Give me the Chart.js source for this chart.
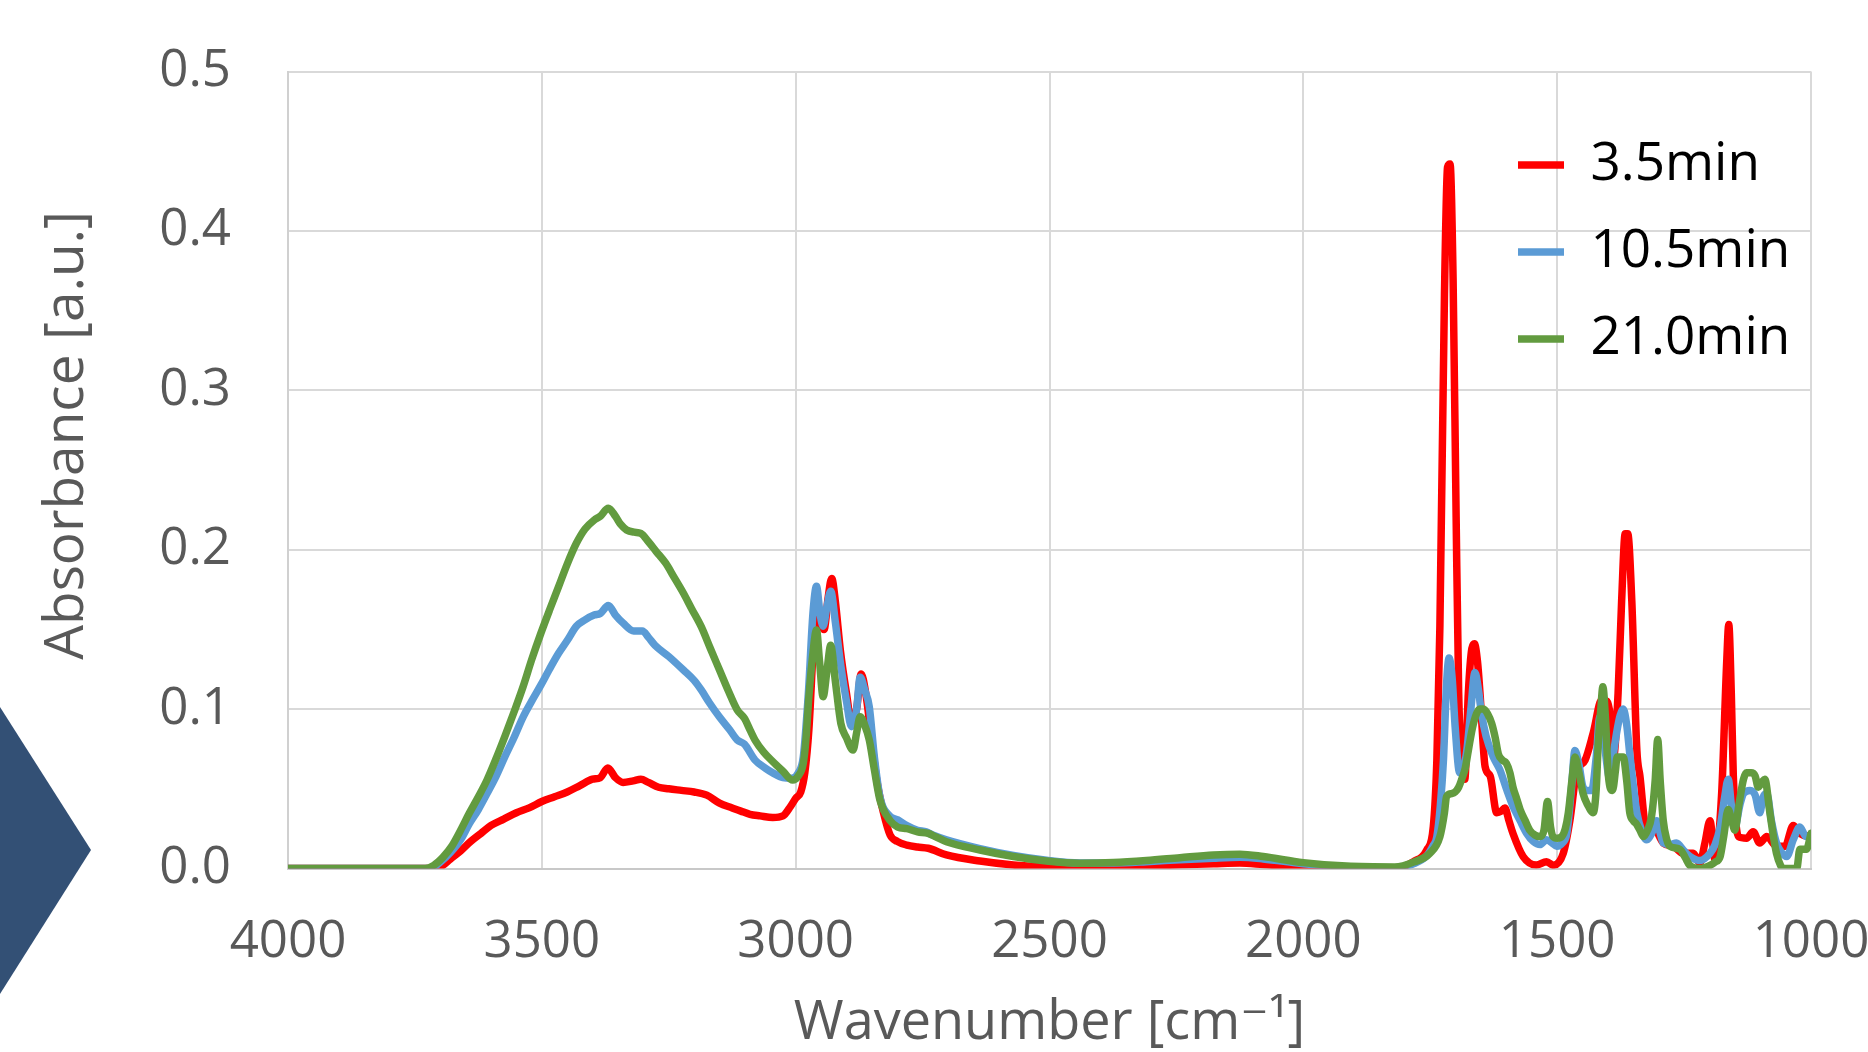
<!DOCTYPE html>
<html>
<head>
<meta charset="utf-8">
<script src="https://cdn.jsdelivr.net/npm/chart.js@4/dist/chart.umd.min.js"></script>
<style>
  html, body { margin: 0; padding: 0; background: #fff; }
  #wrap { width: 1868px; height: 1052px; }
</style>
</head>
<body>
<div id="wrap"><canvas id="chart" width="1868" height="1052"></canvas></div>
<script>
// FTIR spectra: [wavenumber cm-1, absorbance a.u.]
const spec35 = [
  [4000, 0], [3800, 0], [3720, 0], [3700, 0.001], [3680, 0.006], [3660, 0.011], [3640, 0.017],
  [3620, 0.022], [3600, 0.027], [3575, 0.031], [3550, 0.035], [3525, 0.038], [3500, 0.042],
  [3475, 0.045], [3450, 0.048], [3425, 0.052], [3400, 0.056], [3385, 0.057], [3370, 0.063],
  [3355, 0.057], [3340, 0.054], [3320, 0.055], [3305, 0.056], [3290, 0.054], [3270, 0.051],
  [3250, 0.050], [3225, 0.049], [3200, 0.048], [3175, 0.046], [3150, 0.041], [3125, 0.038],
  [3108, 0.036], [3090, 0.034], [3070, 0.033], [3045, 0.032], [3025, 0.033], [3010, 0.039],
  [3000, 0.044], [2990, 0.048], [2982, 0.060], [2974, 0.087], [2966, 0.135], [2959, 0.172],
  [2952, 0.155], [2944, 0.150], [2936, 0.170], [2929, 0.182], [2922, 0.168], [2912, 0.137],
  [2900, 0.110], [2890, 0.092], [2880, 0.100], [2871, 0.122], [2862, 0.110], [2852, 0.085],
  [2840, 0.055], [2827, 0.035], [2814, 0.021], [2800, 0.017], [2781, 0.0147], [2760, 0.0135],
  [2739, 0.0127], [2703, 0.0085], [2637, 0.0047], [2571, 0.0022], [2506, 0.001], [2440, 0.0005],
  [2374, 0.001], [2309, 0.0015], [2243, 0.0023], [2177, 0.003], [2125, 0.0035], [2079, 0.0025],
  [2000, 0.0005], [1900, 0], [1820, 0], [1783, 0.0043], [1757, 0.0116], [1744, 0.0263],
  [1737, 0.068], [1731, 0.152], [1722, 0.36], [1716, 0.44], [1711, 0.442], [1705, 0.37],
  [1699, 0.22], [1694, 0.11], [1688, 0.068], [1682, 0.056], [1675, 0.11], [1668, 0.138],
  [1663, 0.141], [1657, 0.13], [1652, 0.11], [1642, 0.064], [1632, 0.058], [1619, 0.035],
  [1610, 0.036], [1603, 0.038], [1595, 0.03], [1587, 0.022], [1567, 0.0075], [1541, 0.0022],
  [1521, 0.0043], [1508, 0.002], [1488, 0.0095], [1475, 0.03], [1462, 0.06], [1445, 0.068],
  [1429, 0.085], [1412, 0.106], [1402, 0.105], [1395, 0.095], [1389, 0.07], [1380, 0.11],
  [1373, 0.168], [1366, 0.21], [1361, 0.21], [1353, 0.168], [1343, 0.074], [1337, 0.058],
  [1324, 0.024], [1311, 0.026], [1291, 0.016], [1271, 0.014], [1252, 0.0095], [1232, 0.0095],
  [1219, 0.0033], [1209, 0.016], [1199, 0.03], [1189, 0.0054], [1176, 0.047], [1166, 0.13],
  [1162, 0.153], [1157, 0.11], [1153, 0.058], [1143, 0.02], [1127, 0.019], [1114, 0.023],
  [1101, 0.016], [1087, 0.02], [1068, 0.014], [1051, 0.014], [1035, 0.027], [1022, 0.022],
  [1000, 0.02]
];

const spec105 = [
  [4000, 0], [3800, 0], [3720, 0], [3700, 0.004], [3680, 0.010], [3660, 0.018], [3643, 0.028],
  [3625, 0.037], [3608, 0.047], [3590, 0.058], [3573, 0.070], [3555, 0.082], [3537, 0.095],
  [3520, 0.105], [3502, 0.115], [3485, 0.125], [3467, 0.135], [3450, 0.143], [3432, 0.152],
  [3415, 0.156], [3397, 0.159], [3385, 0.160], [3369, 0.165], [3355, 0.159], [3340, 0.154],
  [3319, 0.149], [3302, 0.149], [3290, 0.145], [3277, 0.140], [3250, 0.133], [3221, 0.1245],
  [3200, 0.118], [3186, 0.112], [3170, 0.104], [3150, 0.095], [3130, 0.087], [3115, 0.0806],
  [3101, 0.078], [3080, 0.068], [3060, 0.063], [3045, 0.060], [3025, 0.057], [3008, 0.0566],
  [2995, 0.060], [2985, 0.070], [2975, 0.110], [2966, 0.160], [2959, 0.177], [2952, 0.160],
  [2946, 0.152], [2938, 0.165], [2931, 0.174], [2922, 0.155], [2911, 0.127], [2900, 0.105],
  [2890, 0.089], [2880, 0.100], [2873, 0.120], [2864, 0.112], [2855, 0.1015], [2845, 0.070],
  [2834, 0.045], [2815, 0.033], [2799, 0.0305], [2781, 0.027], [2760, 0.024], [2743, 0.023],
  [2730, 0.021], [2703, 0.018], [2637, 0.0125], [2571, 0.0082], [2506, 0.0052], [2440, 0.0035],
  [2374, 0.0035], [2309, 0.0043], [2243, 0.0055], [2177, 0.0065], [2125, 0.007], [2079, 0.006],
  [2000, 0.003], [1915, 0.001], [1820, 0.0005], [1783, 0.003], [1757, 0.008], [1745, 0.014],
  [1737, 0.020], [1730, 0.040], [1724, 0.068], [1718, 0.115], [1713, 0.132], [1707, 0.120],
  [1701, 0.089], [1692, 0.060], [1685, 0.062], [1678, 0.074], [1670, 0.100], [1662, 0.123],
  [1655, 0.112], [1649, 0.097], [1640, 0.083], [1626, 0.070], [1613, 0.062], [1600, 0.050],
  [1587, 0.039], [1573, 0.030], [1560, 0.022], [1547, 0.017], [1534, 0.015], [1521, 0.018],
  [1510, 0.016], [1501, 0.014], [1490, 0.016], [1481, 0.022], [1472, 0.050], [1465, 0.074],
  [1457, 0.065], [1449, 0.051], [1440, 0.049], [1432, 0.049], [1423, 0.070], [1416, 0.095],
  [1408, 0.080], [1396, 0.056], [1390, 0.070], [1383, 0.085], [1376, 0.096], [1370, 0.100],
  [1363, 0.090], [1357, 0.072], [1350, 0.052], [1343, 0.035], [1334, 0.024], [1324, 0.018],
  [1314, 0.022], [1304, 0.030], [1297, 0.022], [1291, 0.016], [1278, 0.015], [1265, 0.016],
  [1250, 0.011], [1238, 0.0075], [1219, 0.005], [1199, 0.0095], [1189, 0.015], [1179, 0.026],
  [1170, 0.045], [1163, 0.056], [1157, 0.040], [1150, 0.026], [1140, 0.040], [1133, 0.047],
  [1120, 0.049], [1110, 0.046], [1101, 0.035], [1094, 0.045], [1087, 0.047], [1078, 0.030],
  [1068, 0.016], [1058, 0.010], [1048, 0.0075], [1035, 0.018], [1022, 0.026], [1010, 0.020],
  [1000, 0.020]
];

const spec210 = [
  [4000, 0], [3800, 0], [3730, 0], [3713, 0.002], [3695, 0.007], [3678, 0.0137], [3660, 0.024],
  [3643, 0.0346], [3625, 0.045], [3608, 0.0555], [3590, 0.069], [3573, 0.0827], [3555, 0.098],
  [3537, 0.114], [3520, 0.131], [3502, 0.1475], [3485, 0.162], [3467, 0.1768], [3450, 0.191],
  [3432, 0.204], [3415, 0.213], [3397, 0.2186], [3385, 0.221], [3369, 0.226], [3355, 0.221],
  [3345, 0.216], [3333, 0.2124], [3318, 0.211], [3305, 0.2103], [3290, 0.205], [3275, 0.199],
  [3256, 0.1915], [3240, 0.183], [3221, 0.1727], [3205, 0.163], [3186, 0.1517], [3168, 0.138],
  [3150, 0.1245], [3132, 0.111], [3115, 0.0994], [3101, 0.0942], [3090, 0.087], [3080, 0.0806],
  [3063, 0.073], [3045, 0.067], [3025, 0.061], [3006, 0.0555], [2995, 0.058], [2985, 0.066],
  [2980, 0.080], [2974, 0.1078], [2966, 0.135], [2959, 0.1496], [2953, 0.130], [2946, 0.1078],
  [2938, 0.125], [2931, 0.140], [2922, 0.118], [2911, 0.091], [2900, 0.082], [2887, 0.0743],
  [2880, 0.085], [2873, 0.0952], [2864, 0.090], [2855, 0.0806], [2845, 0.062], [2834, 0.043],
  [2814, 0.030], [2799, 0.026], [2781, 0.025], [2760, 0.023], [2739, 0.022], [2725, 0.020],
  [2703, 0.0168], [2637, 0.0116], [2571, 0.0075], [2506, 0.0047], [2440, 0.0033], [2374, 0.0037],
  [2309, 0.005], [2243, 0.0068], [2177, 0.0085], [2125, 0.009], [2079, 0.0075], [2000, 0.0037],
  [1915, 0.0015], [1820, 0.001], [1783, 0.004], [1751, 0.0095], [1731, 0.020], [1722, 0.035],
  [1718, 0.045], [1708, 0.047], [1701, 0.048], [1694, 0.051], [1688, 0.056], [1681, 0.063],
  [1675, 0.074], [1667, 0.088], [1659, 0.097], [1652, 0.100], [1645, 0.100], [1637, 0.097],
  [1629, 0.091], [1622, 0.082], [1616, 0.072], [1608, 0.068], [1600, 0.066], [1593, 0.060],
  [1587, 0.051], [1580, 0.044], [1573, 0.037], [1563, 0.030], [1554, 0.024], [1544, 0.021],
  [1534, 0.020], [1526, 0.024], [1519, 0.042], [1513, 0.026], [1508, 0.020], [1500, 0.019],
  [1491, 0.020], [1484, 0.025], [1478, 0.035], [1470, 0.058], [1465, 0.070], [1457, 0.060],
  [1449, 0.047], [1440, 0.040], [1429, 0.035], [1423, 0.050], [1419, 0.079], [1414, 0.100],
  [1410, 0.114], [1405, 0.095], [1399, 0.058], [1391, 0.049], [1385, 0.062], [1382, 0.070],
  [1370, 0.070], [1363, 0.055], [1357, 0.035], [1350, 0.030], [1344, 0.028], [1337, 0.024],
  [1330, 0.020], [1322, 0.024], [1314, 0.033], [1307, 0.055], [1302, 0.081], [1297, 0.055],
  [1291, 0.030], [1284, 0.018], [1278, 0.014], [1258, 0.012], [1248, 0.007], [1239, 0.002],
  [1219, 0], [1199, 0.002], [1189, 0.004], [1179, 0.0075], [1172, 0.020], [1163, 0.037],
  [1156, 0.030], [1150, 0.024], [1142, 0.040], [1133, 0.056], [1127, 0.060], [1118, 0.060],
  [1110, 0.058], [1104, 0.051], [1097, 0.054], [1091, 0.056], [1081, 0.035], [1074, 0.020],
  [1068, 0.0095], [1060, 0.002], [1055, 0], [1028, 0], [1022, 0.012], [1009, 0.012],
  [1000, 0.022]
];

const seriesLabels = ["3.5min", "10.5min", "21.0min"];
const seriesColors = ["#FF0000", "#5B9BD5", "#629B3F"];
const allSpectra = [spec35, spec105, spec210];

const xTicks = [4000, 3500, 3000, 2500, 2000, 1500, 1000];
const yTicks = [0, 0.1, 0.2, 0.3, 0.4, 0.5];

const FONT = "'Open Sans', 'DejaVu Sans', sans-serif";
const GREY = "#595959";
const LINE_W = 7.5;

// slide decoration: the dark arrow head on the left edge
const slideMarker = {
  id: "slideMarker",
  beforeDraw(chart) {
    const ctx = chart.ctx;
    ctx.save();
    ctx.fillStyle = "#fff";
    ctx.fillRect(0, 0, chart.width, chart.height);
    ctx.fillStyle = "#335075";
    ctx.beginPath();
    ctx.moveTo(0, 707);
    ctx.lineTo(91, 850);
    ctx.lineTo(0, 994);
    ctx.closePath();
    ctx.fill();
    ctx.restore();
  }
};

// put the (chartArea) legend box at the top right of the plot
const legendPlacement = {
  id: "legendPlacement",
  afterLayout(chart) {
    const lg = chart.legend;
    if (!lg) return;
    lg.left = 1484;
    lg.top = 104.5;
    lg.right = lg.left + lg.width;
    lg.bottom = lg.top + lg.height;
  }
};

// tick padding should not eat into the plot area
const noEdgePadding = (scale) => {
  scale.paddingLeft = 0;
  scale.paddingRight = 0;
  scale.paddingTop = 0;
  scale.paddingBottom = 0;
};

const datasets = allSpectra.map((spec, i) => ({
  label: seriesLabels[i],
  data: spec.map(([x, y]) => ({ x, y })),
  borderColor: seriesColors[i],
  backgroundColor: seriesColors[i],
  pointBorderColor: seriesColors[i],
  pointBorderWidth: LINE_W,
  borderWidth: LINE_W,
  borderCapStyle: "round",
  borderJoinStyle: "round",
  pointRadius: 0,
  cubicInterpolationMode: "monotone",
  order: allSpectra.length - i
}));

new Chart(document.getElementById("chart"), {
  type: "line",
  data: { datasets },
  plugins: [slideMarker, legendPlacement],
  options: {
    responsive: false,
    devicePixelRatio: 1,
    animation: false,
    events: [],
    layout: { padding: { left: 0, top: 71.5, right: 57, bottom: 0 } },
    plugins: {
      tooltip: { enabled: false },
      legend: {
        position: "chartArea",
        align: "start",
        labels: {
          sort: (a, b) => a.datasetIndex - b.datasetIndex,
          usePointStyle: true,
          pointStyle: "line",
          pointStyleWidth: 46,
          padding: 34,
          color: "#000",
          font: { family: FONT, size: 53 }
        }
      }
    },
    scales: {
      x: {
        type: "linear",
        reverse: true,
        min: 1000,
        max: 4000,
        afterBuildTicks: (scale) => { scale.ticks = xTicks.map((v) => ({ value: v })); },
        afterFit: (scale) => { scale.height = 183.5; noEdgePadding(scale); },
        ticks: {
          autoSkip: false,
          maxRotation: 0,
          padding: 43,
          color: GREY,
          font: { family: FONT, size: 51 },
          callback: (v) => String(v)
        },
        grid: { color: "#D9D9D9", lineWidth: 2, drawTicks: false },
        border: { color: "#C8C8C8", width: 2 },
        title: {
          display: true,
          text: "Wavenumber [cm\u207B\u00B9]",
          color: GREY,
          padding: { top: 0, bottom: 1 },
          font: { family: FONT, size: 54, lineHeight: 1 }
        }
      },
      y: {
        min: 0,
        max: 0.5,
        afterBuildTicks: (scale) => { scale.ticks = yTicks.map((v) => ({ value: v })); },
        afterFit: (scale) => { scale.width = 288; noEdgePadding(scale); },
        ticks: {
          padding: 57,
          color: GREY,
          font: { family: FONT, size: 51 },
          callback: (v) => v.toFixed(1)
        },
        grid: { color: "#D9D9D9", lineWidth: 2, drawTicks: false },
        border: { color: "#D0D0D0", width: 2 },
        title: {
          display: true,
          text: "\u2002\u2002 Absorbance [a.u.]",
          color: GREY,
          padding: { top: 34, bottom: 0 },
          font: { family: FONT, size: 55, lineHeight: 1.2 }
        }
      }
    }
  }
});
</script>
</body>
</html>
